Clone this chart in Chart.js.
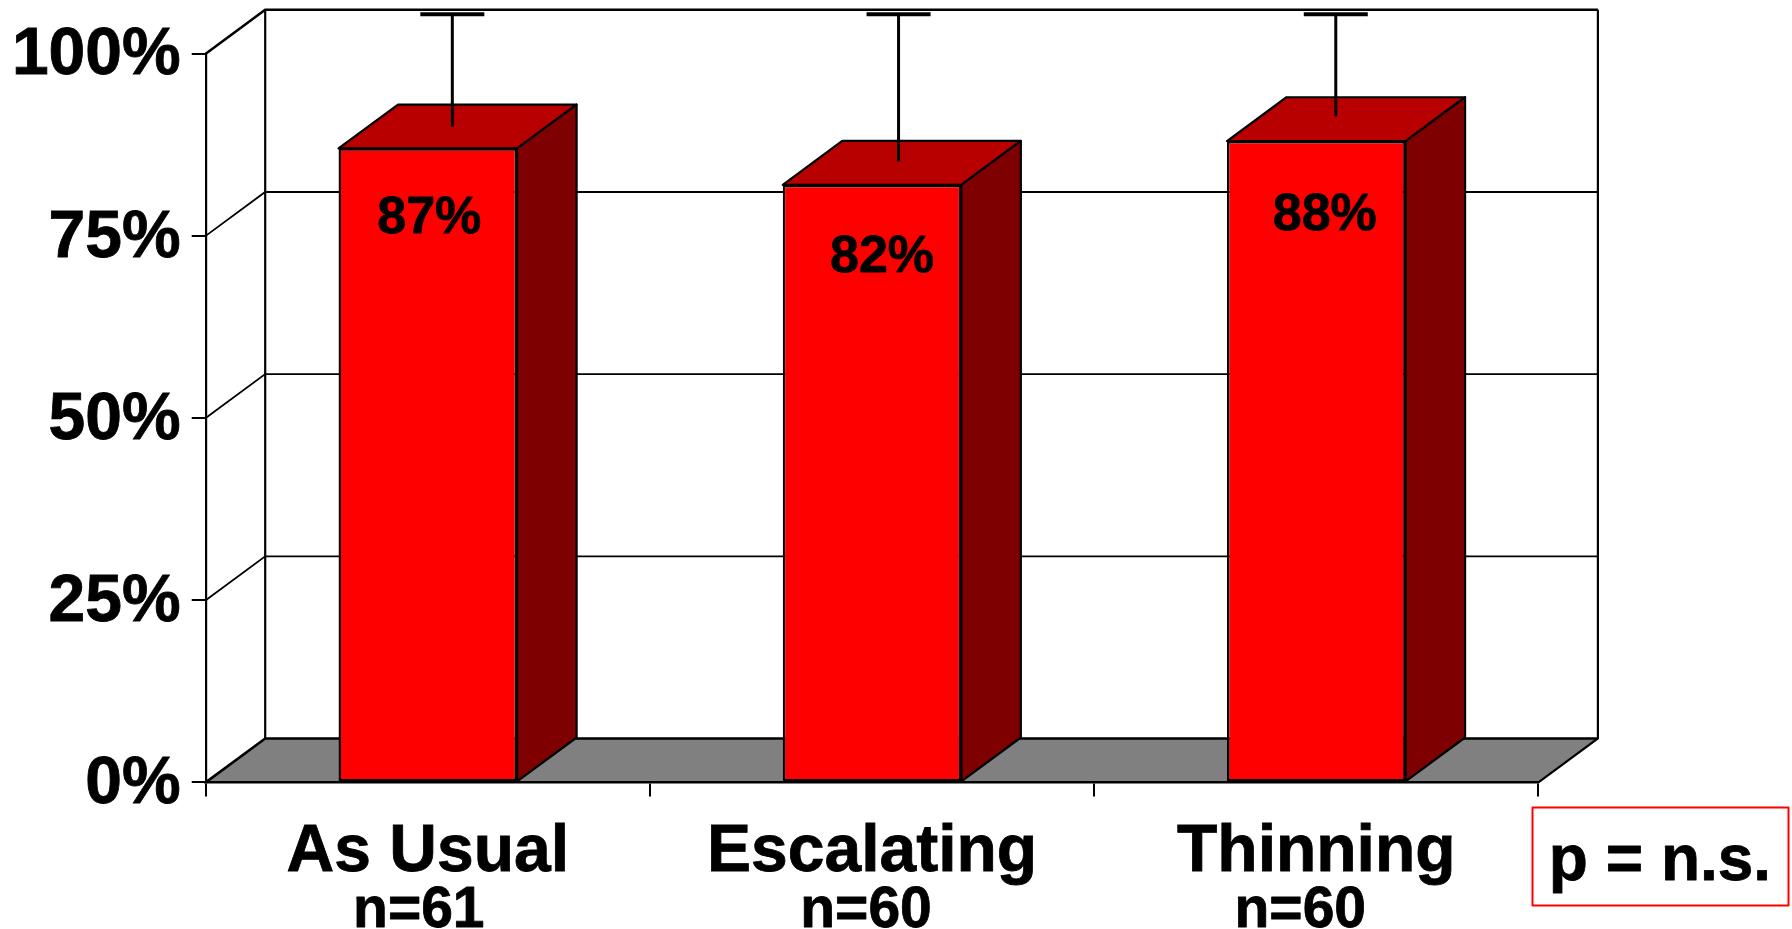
<!DOCTYPE html>
<html><head><meta charset="utf-8">
<style>html,body{margin:0;padding:0;background:#fff}canvas{display:block}</style>
<script src="https://cdn.jsdelivr.net/npm/chart.js@4"></script>
</head><body><canvas id="c" width="1792" height="929"></canvas>
<script>
const categories = ["As Usual", "Escalating", "Thinning"];
const sampleSizes = ["n=61", "n=60", "n=60"];
const values = [87, 82, 88];
const valueLabels = ["87%", "82%", "88%"];
const errLow = [87, 82.2, 88.4];
const errHigh = [102.4, 102.4, 102.4];
const note = "p = n.s.";

// layout
const L = 205.7, R = 1538.4, T = 53.7, B = 782.4, DX = 59.5, DY = -43.9;
const errShiftX = [24.5, 26.5, 19.5];
const labelShiftX = [1.5, 10, 8.5], labelDropY = [70, 73, 75];
const nCenterShift = [-9, -6, -16];
const FONT = '"Liberation Sans", Arial, sans-serif';

const scene = {
  id: 'scene',
  beforeDraw(chart) {
    const c = chart.ctx, y = chart.scales.y;
    c.save();
    c.fillStyle = '#808080';
    c.beginPath(); c.moveTo(L, B); c.lineTo(L + DX, B + DY); c.lineTo(R + DX, B + DY); c.lineTo(R, B); c.closePath(); c.fill();
    c.strokeStyle = '#000'; c.lineWidth = 2; c.lineCap = 'butt';
    [0, 25, 50, 75, 100].forEach(v => {
      const p = y.getPixelForValue(v);
      c.lineWidth = (v === 0 || v === 100) ? 2.6 : 1.8;
      c.beginPath(); c.moveTo(L, p); c.lineTo(L + DX, p + DY); c.lineTo(R + DX, p + DY); c.stroke();
    });
    c.lineWidth = 2.2;
    c.beginPath(); c.moveTo(L + DX, T + DY); c.lineTo(L + DX, B + DY); c.stroke();
    c.beginPath(); c.moveTo(R + DX, T + DY); c.lineTo(R + DX, B + DY); c.lineTo(R, B); c.stroke();
    c.restore();
  },
  beforeDatasetsDraw(chart) {
    const c = chart.ctx;
    c.save(); c.strokeStyle = '#000'; c.lineWidth = 2.2; c.lineJoin = 'round';
    chart.getDatasetMeta(0).data.forEach(b => {
      const x0 = b.x - b.width / 2, x1 = b.x + b.width / 2, yt = b.y, yb = b.base;
      c.fillStyle = '#B80000';
      c.beginPath(); c.moveTo(x0, yt); c.lineTo(x1, yt); c.lineTo(x1 + DX, yt + DY); c.lineTo(x0 + DX, yt + DY); c.closePath(); c.fill(); c.stroke();
      c.fillStyle = '#7F0000';
      c.beginPath(); c.moveTo(x1, yt); c.lineTo(x1 + DX, yt + DY); c.lineTo(x1 + DX, yb + DY); c.lineTo(x1, yb); c.closePath(); c.fill(); c.stroke();
    });
    c.restore();
  },
  afterDatasetsDraw(chart) {
    const c = chart.ctx, y = chart.scales.y, x = chart.scales.x;
    c.save();
    chart.getDatasetMeta(0).data.forEach((b, i) => {
      const ex = b.x + errShiftX[i];
      const lo = y.getPixelForValue(errLow[i]) + DY / 2, hi = y.getPixelForValue(errHigh[i]) + DY / 2;
      c.strokeStyle = '#000'; c.lineWidth = 3;
      c.beginPath(); c.moveTo(ex, lo); c.lineTo(ex, hi); c.stroke();
      c.lineWidth = 4;
      c.beginPath(); c.moveTo(ex - 32, hi); c.lineTo(ex + 32, hi); c.stroke();
      c.fillStyle = '#000'; c.textAlign = 'center'; c.textBaseline = 'middle';
      c.lineWidth = 0.8; c.lineJoin = 'round';
      c.font = 'bold 52px ' + FONT;
      const lx = b.x + labelShiftX[i], ly = b.y + labelDropY[i];
      c.fillText(valueLabels[i], lx, ly); c.strokeText(valueLabels[i], lx, ly);
      c.font = 'bold 57px ' + FONT; c.textBaseline = 'alphabetic';
      const nx = x.getPixelForValue(i) + nCenterShift[i];
      c.fillText(sampleSizes[i], nx, 927); c.strokeText(sampleSizes[i], nx, 927);
    });
    c.strokeStyle = '#FF0000'; c.lineWidth = 2;
    c.strokeRect(1532.5, 807.5, 256, 98);
    c.fillStyle = '#000'; c.strokeStyle = '#000'; c.lineWidth = 0.8;
    c.font = 'bold 64px ' + FONT; c.textAlign = 'center'; c.textBaseline = 'alphabetic';
    c.fillText(note, 1660, 880); c.strokeText(note, 1660, 880);
    c.restore();
  }
};

new Chart(document.getElementById('c'), {
  type: 'bar',
  data: { labels: categories, datasets: [{ data: values, backgroundColor: '#FF0000', borderColor: '#000', borderWidth: 2.4, borderSkipped: false, categoryPercentage: 1, barPercentage: 0.402 }] },
  options: {
    responsive: false, animation: false, devicePixelRatio: 1,
    layout: { padding: { top: T, right: 1792 - R, left: 0, bottom: 0 } },
    plugins: { legend: { display: false }, tooltip: { enabled: false } },
    scales: {
      x: {
        afterFit(s) { s.height = 929 - B; },
        grid: { drawOnChartArea: false, drawTicks: true, tickLength: 14, color: '#000', lineWidth: 2 },
        border: { display: true, color: '#000', width: 2.6 },
        ticks: { color: '#000', font: { family: FONT, weight: 'bold', size: 66 }, padding: 17, maxRotation: 0, autoSkip: false, textStrokeColor: '#000', textStrokeWidth: 0.8 }
      },
      y: {
        min: 0, max: 100,
        afterFit(s) { s.width = L; },
        grid: { drawOnChartArea: false, drawTicks: true, tickLength: 14, color: '#000', lineWidth: 2 },
        border: { display: true, color: '#000', width: 2.2 },
        ticks: { stepSize: 25, color: '#000', font: { family: FONT, weight: 'bold', size: 66 }, padding: 11, labelOffset: 2.5, callback: v => v + '%', textStrokeColor: '#000', textStrokeWidth: 0.8 }
      }
    }
  },
  plugins: [scene]
});
</script></body></html>
